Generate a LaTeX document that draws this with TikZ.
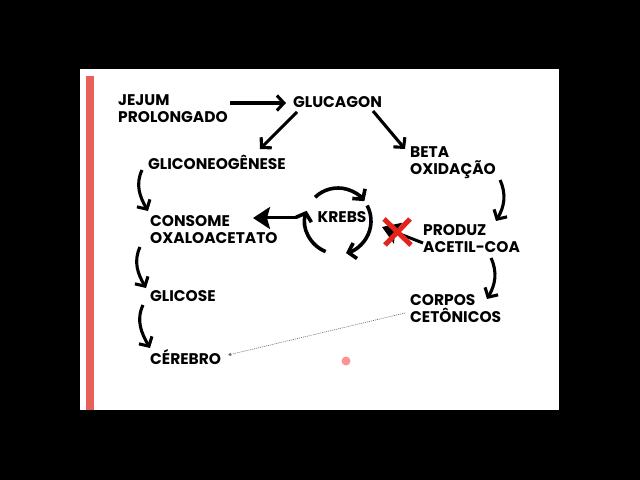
\documentclass[tikz,border=0pt]{standalone}
\usepackage{fontspec}
\setmainfont{Poppins}
\usetikzlibrary{arrows.meta}
\definecolor{barred}{HTML}{E8605A}
\definecolor{xred}{HTML}{E4231C}
\begin{document}
\begin{tikzpicture}[x=1bp,y=-1bp,
  lbl/.style={anchor=west,inner sep=0pt,align=left,font=\bfseries\fontsize{15.5}{17}\selectfont},
  arr/.style={line width=3.1bp,-{Straight Barb[length=7bp,width=15bp]}},
  cyc/.style={line width=3.6bp,-{Straight Barb[length=7bp,width=16bp]}},
  wedge/.style={line width=3bp,-{Stealth[length=17bp,width=22bp,inset=3bp]}}]
\useasboundingbox (0,0) rectangle (640,480);
\fill[black] (0,0) rectangle (640,480);
\fill[white] (80,69) rectangle (559,410);
\fill[barred] (86,76) rectangle (94,410);

\node[lbl] (jejum) at (118,109) {JEJUM\\PROLONGADO};
\node[lbl] (glucagon) at (293,102) {GLUCAGON};
\node[lbl] (glico) at (148,162) {GLICONEOGÊNESE};
\node[lbl] (beta) at (410,163) {BETA\\OXIDAÇÃO};
\node[lbl] (consome) at (150,230) {CONSOME\\OXALOACETATO};
\node[lbl,anchor=center] (krebs) at (342,217) {KREBS};
\node[lbl] (produz) at (423,239) {PRODUZ\\ACETIL-COA};
\node[lbl] (glicose) at (150,296) {GLICOSE};
\node[lbl] (corpos) at (410,309) {CORPOS\\CETÔNICOS};
\node[lbl] (cerebro) at (150,357) {CÉREBRO};

\coordinate (kc) at ([shift={(-4,4)}]krebs.center);

\draw[arr] ([shift={(112,-6)}]jejum.west) -- ([shift={(-7,1)}]glucagon.west);
\draw[arr] ([shift={(4,10)}]glucagon.west) -- ([shift={(112,-13)}]glico.west);
\draw[arr] ([shift={(80,9)}]glucagon.west) -- ([shift={(-5,-14)}]beta.west);
\draw[arr] ([shift={(-6,8)}]glico.west) to[out=245,in=120] ([shift={(-2,-19)}]consome.west);
\draw[arr] ([shift={(-10,17)}]consome.west) to[out=245,in=120] ([shift={(-4,-8)}]glicose.west);
\draw[arr] ([shift={(-7,9)}]glicose.west) to[out=245,in=120] ([shift={(0,-9)}]cerebro.west);
\draw[arr] ([shift={(90,17)}]beta.west) to[out=295,in=60] ([shift={(73,-18)}]produz.west);
\draw[arr] ([shift={(68,19)}]produz.west) to[out=295,in=60] ([shift={(77,-10)}]corpos.west);

% Krebs cycle
\draw[cyc] ([shift={(226:33)}]kc) arc[start angle=226,end angle=323,radius=33];
\draw[cyc] ([shift={(332:33)}]kc) arc[start angle=332,end angle=436,radius=33];
\draw[cyc] ([shift={(112:33)}]kc) arc[start angle=112,end angle=198,radius=33];

\draw[wedge] ([shift={(-45,1)}]krebs.center) -- ([shift={(103,-12)}]consome.west);
\draw[wedge] ([shift={(0,4)}]produz.west) -- ([shift={(40,10)}]krebs.center);
\draw[xred,line width=5bp] (384,219) -- (411,245);
\draw[xred,line width=5bp] (410,219) -- (385,245);

\draw[gray!80!black,line width=0.6bp,dash pattern=on 1bp off 1bp,-{Triangle[length=3bp,width=3bp]}]
  ([shift={(-5,4)}]corpos.west) -- ([shift={(78,-2)}]cerebro.west);

\fill[red!60,opacity=0.7] (346,361) circle (4.5);
\end{tikzpicture}
\end{document}
